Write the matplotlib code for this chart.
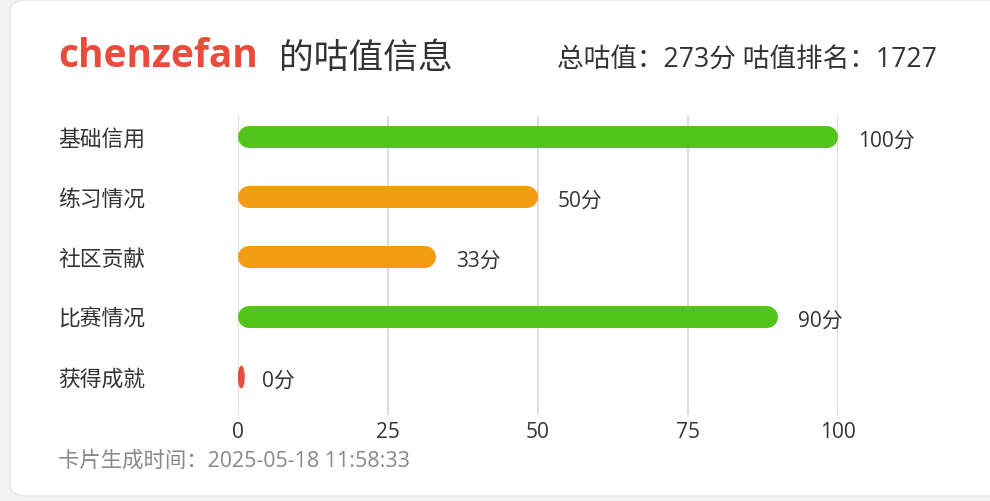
import matplotlib
matplotlib.use("Agg")
import matplotlib.pyplot as plt
from matplotlib.patches import FancyBboxPatch, Ellipse

plt.rcParams['font.family'] = ['Open Sans', 'Noto Sans CJK SC', 'DejaVu Sans']

# ---- data ----
user_name = "chenzefan"
title_suffix = "的咕值信息"
total_score = 273
rank = 1727
categories = ["基础信用", "练习情况", "社区贡献", "比赛情况", "获得成就"]
scores = [100, 50, 33, 90, 0]
bar_colors = ["#52c41a", "#f39c12", "#f39c12", "#52c41a", "#e74c3c"]
x_ticks = [0, 25, 50, 75, 100]
generated_at = "2025-05-18 11:58:33"

W, H = 990, 502
fig = plt.figure(figsize=(W / 100, H / 100), dpi=100)
fig.patch.set_facecolor("#f3f3f3")


def fx(px):
    return px / W


def fy(py):
    return 1 - py / H


# card background
card = FancyBboxPatch((fx(10), fy(497)), fx(1010) - fx(10), fy(1) - fy(497),
                      boxstyle="round,pad=0,rounding_size=0.02",
                      transform=fig.transFigure, facecolor="white",
                      edgecolor="#e6e6e6", linewidth=1.0, zorder=-5)
fig.patches.append(card)

text_color = "#333333"

# header
fig.text(fx(58), fy(67), user_name, color="#e74c3c", fontsize=28,
         fontweight="bold", va="baseline", ha="left")
fig.text(fx(279), fy(68), title_suffix, color=text_color, fontsize=25,
         va="baseline", ha="left")
fig.text(fx(937), fy(67), f"总咕值：{total_score}分 咕值排名：{rank}",
         color=text_color, fontsize=19.2, va="baseline", ha="right")

# chart area: x 0..100 -> px 238..838 ; rows at px 138 + 60*i
top_px, bot_px = 117, 416
ax = fig.add_axes([fx(238), fy(bot_px), (838 - 238) / W, (bot_px - top_px) / H])
ax.set_zorder(2)
ax.set_facecolor("none")
ax.set_xlim(0, 100)
ax.set_ylim(4 + (bot_px - 378) / 60, -(138 - top_px) / 60)
for s in ax.spines.values():
    s.set_visible(False)
ax.set_yticks([])
ax.set_xticks(x_ticks)
ax.tick_params(axis="x", length=0, pad=4, labelsize=15, labelcolor=text_color)
for t in x_ticks:
    ax.axvline(t, color="#dddddd", linewidth=1.4, zorder=1)

bar_px = 22
lw_pt = bar_px * 72 / 100
r_units = (bar_px / 2) / 6.0
for i, (v, c) in enumerate(zip(scores, bar_colors)):
    if v > 2 * r_units:
        ax.plot([r_units, v - r_units], [i, i], color=c, linewidth=lw_pt,
                solid_capstyle="round", zorder=3)
    else:
        ax.add_patch(Ellipse((v + 0.55, i), width=1.15, height=0.38,
                             facecolor=c, edgecolor="none", zorder=3))
    ax.annotate(f"{v}分", xy=(v, i), xytext=(20 if v > 0 else 24, -3),
                textcoords="offset pixels", va="center", ha="left",
                fontsize=15, color=text_color, annotation_clip=False)
    fig.text(fx(58), fy(140 + 60 * i), categories[i], color=text_color,
             fontsize=15.7, va="center", ha="left")

# footer
fig.text(fx(58), fy(461), f"卡片生成时间：{generated_at}", color="#888888",
         fontsize=15.4, va="center", ha="left")

fig.savefig("out.png", dpi=100, facecolor=fig.get_facecolor())
